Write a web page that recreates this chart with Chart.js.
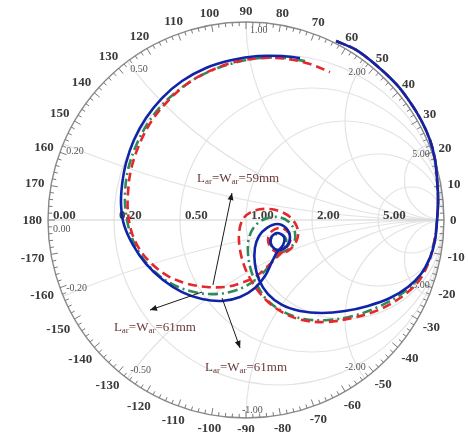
<!DOCTYPE html>
<html>
<head>
<meta charset="utf-8">
<script src="https://cdn.jsdelivr.net/npm/chart.js@4/dist/chart.umd.min.js"></script>
<style>
  html, body { margin: 0; padding: 0; background: #ffffff; overflow: hidden; }
  #wrap { position: relative; width: 469px; height: 432px; }
</style>
</head>
<body>
<div id="wrap"><canvas id="smith" width="469" height="432"></canvas></div>
<script>
// Smith chart grid values (normalised resistance / reactance)
const resistanceTicks = [0, 0.2, 0.5, 1, 2, 5];
const reactanceTicks = [0.2, 0.5, 1, 2, 5];
// Reflection-coefficient angle labels (degrees)
const angleTicks = [180, 170, 160, 150, 140, 130, 120, 110, 100, 90, 80, 70, 60, 50, 40, 30, 20, 10, 0,
  -10, -20, -30, -40, -50, -60, -70, -80, -90, -100, -110, -120, -130, -140, -150, -160, -170];

// S11 (real / imaginary) for the three antenna sizes
const redRe = [0.455, 0.556, 0.662, 0.758, 0.828, 0.884, 0.929, 0.955, 0.965, 0.970, 0.965, 0.949, 0.919, 0.869, 0.778, 0.667,
  0.535, 0.409, 0.283, 0.182, 0.101, 0.040, -0.005, -0.030, -0.035, -0.015, 0.035, 0.106, 0.182, 0.237, 0.263, 0.253, 0.217,
  0.172, 0.131, 0.111, 0.131, 0.177, 0.217, 0.222, 0.192, 0.152, 0.101, 0.045, -0.025, -0.101, -0.197, -0.293, -0.394, -0.475,
  -0.535, -0.576, -0.596, -0.596, -0.581, -0.540, -0.480, -0.399, -0.298, -0.182, -0.056, 0.081, 0.212, 0.323, 0.424];
const redIm = [0.904, 0.859, 0.778, 0.687, 0.596, 0.505, 0.404, 0.303, 0.202, 0.101, 0.000, -0.121, -0.222, -0.313, -0.394, -0.455,
  -0.495, -0.515, -0.505, -0.465, -0.404, -0.328, -0.242, -0.152, -0.066, 0.005, 0.045, 0.056, 0.040, 0.000, -0.056, -0.111, -0.152,
  -0.167, -0.146, -0.101, -0.056, -0.040, -0.066, -0.111, -0.152, -0.192, -0.242, -0.288, -0.318, -0.338, -0.338, -0.323, -0.283, -0.222,
  -0.152, -0.066, 0.035, 0.136, 0.253, 0.379, 0.495, 0.596, 0.687, 0.753, 0.798, 0.818, 0.813, 0.788, 0.747];

const greenRe = [0.455, 0.556, 0.662, 0.758, 0.828, 0.884, 0.929, 0.955, 0.965, 0.970, 0.965, 0.949, 0.919, 0.864, 0.778, 0.667,
  0.540, 0.414, 0.293, 0.192, 0.111, 0.061, 0.025, 0.010, 0.015, 0.045, 0.096, 0.162, 0.217, 0.247, 0.242, 0.207, 0.162,
  0.131, 0.126, 0.157, 0.197, 0.202, 0.172, 0.131, 0.081, 0.010, -0.081, -0.182, -0.283, -0.384, -0.470, -0.535, -0.581,
  -0.606, -0.611, -0.596, -0.556, -0.495, -0.414, -0.313, -0.192, -0.061, 0.071, 0.197, 0.298];
const greenIm = [0.904, 0.859, 0.778, 0.687, 0.596, 0.505, 0.404, 0.303, 0.202, 0.101, 0.000, -0.116, -0.212, -0.303, -0.379, -0.439,
  -0.485, -0.505, -0.500, -0.465, -0.409, -0.338, -0.253, -0.167, -0.091, -0.030, 0.005, 0.015, -0.010, -0.061, -0.116, -0.152, -0.162,
  -0.136, -0.096, -0.071, -0.086, -0.126, -0.162, -0.212, -0.273, -0.328, -0.364, -0.374, -0.359, -0.318, -0.253, -0.172, -0.076,
  0.030, 0.136, 0.253, 0.374, 0.490, 0.591, 0.677, 0.747, 0.793, 0.818, 0.818, 0.803];

const blueRe = [0.455, 0.556, 0.662, 0.758, 0.828, 0.884, 0.929, 0.955, 0.965, 0.970, 0.965, 0.955, 0.929, 0.884, 0.818, 0.727,
  0.616, 0.500, 0.384, 0.273, 0.182, 0.111, 0.066, 0.045, 0.045, 0.066, 0.106, 0.157, 0.202, 0.222, 0.207, 0.167, 0.131,
  0.126, 0.157, 0.192, 0.187, 0.157, 0.131, 0.096, 0.045, -0.030, -0.121, -0.222, -0.323, -0.419, -0.505, -0.571, -0.616,
  -0.631, -0.626, -0.606, -0.566, -0.505, -0.424, -0.323, -0.202, -0.071, 0.061, 0.182, 0.273];
const blueIm = [0.904, 0.859, 0.778, 0.687, 0.596, 0.505, 0.404, 0.303, 0.202, 0.101, 0.000, -0.101, -0.192, -0.273, -0.338, -0.394,
  -0.434, -0.460, -0.470, -0.460, -0.429, -0.374, -0.303, -0.222, -0.141, -0.081, -0.040, -0.020, -0.040, -0.086, -0.131, -0.152, -0.131,
  -0.091, -0.066, -0.086, -0.126, -0.162, -0.212, -0.283, -0.343, -0.389, -0.409, -0.399, -0.364, -0.303, -0.222, -0.126, -0.025,
  0.076, 0.177, 0.288, 0.404, 0.515, 0.616, 0.702, 0.768, 0.808, 0.828, 0.828, 0.818];

const seriesNames = ['59mm', '61mm', '61mm'];

function toPoints(re, im) {
  return re.map((v, i) => ({ x: v, y: im[i] }));
}

// Labelled arrows (positions in reflection-coefficient coordinates)
const callouts = [
  { size: seriesNames[0], text: { x: -0.040, y: 0.212 }, from: { x: -0.167, y: -0.328 }, to: { x: -0.071, y: 0.136 } },
  { size: seriesNames[1], text: { x: -0.460, y: -0.540 }, from: { x: -0.222, y: -0.364 }, to: { x: -0.485, y: -0.455 } },
  { size: seriesNames[2], text: { x: 0.000, y: -0.742 }, from: { x: -0.121, y: -0.394 }, to: { x: -0.030, y: -0.646 } }
];

const serif = "'Liberation Serif', 'DejaVu Serif', serif";

function fmt(v) { return v.toFixed(2); }

// Grid, rim ticks and scale labels of the Smith chart
const smithGrid = {
  id: 'smithGrid',
  beforeDatasetsDraw(chart) {
    const { ctx } = chart;
    const sx = chart.scales.x, sy = chart.scales.y;
    const px = v => sx.getPixelForValue(v);
    const py = v => sy.getPixelForValue(v);
    const cx = px(0), cy = py(0), R = px(1) - px(0);

    ctx.save();
    ctx.beginPath();
    ctx.arc(cx, cy, R, 0, Math.PI * 2);
    ctx.clip();
    ctx.strokeStyle = '#e3e3e3';
    ctx.lineWidth = 1.2;
    resistanceTicks.forEach(r => {
      if (r === 0) return;
      ctx.beginPath();
      ctx.arc(px(r / (1 + r)), cy, R / (1 + r), 0, Math.PI * 2);
      ctx.stroke();
    });
    reactanceTicks.forEach(xv => {
      [xv, -xv].forEach(s => {
        ctx.beginPath();
        ctx.arc(px(1), py(1 / s), R / Math.abs(s), 0, Math.PI * 2);
        ctx.stroke();
      });
    });
    ctx.strokeStyle = '#d4d4d4';
    ctx.beginPath();
    ctx.moveTo(px(-1), cy);
    ctx.lineTo(px(1), cy);
    ctx.stroke();
    ctx.restore();

    // rim
    ctx.save();
    ctx.strokeStyle = '#8a8a8a';
    ctx.lineWidth = 1.4;
    ctx.beginPath();
    ctx.arc(cx, cy, R, 0, Math.PI * 2);
    ctx.stroke();
    ctx.strokeStyle = '#7a7a7a';
    ctx.lineWidth = 1;
    ctx.beginPath();
    for (let a = 0; a < 360; a += 2) {
      const t = a * Math.PI / 180;
      const len = a % 10 === 0 ? 7 : 4;
      ctx.moveTo(cx + R * Math.cos(t), cy - R * Math.sin(t));
      ctx.lineTo(cx + (R - len) * Math.cos(t), cy - (R - len) * Math.sin(t));
    }
    ctx.stroke();

    // angle labels
    ctx.fillStyle = '#3a3a3a';
    ctx.font = 'bold 13px ' + serif;
    ctx.textAlign = 'center';
    ctx.textBaseline = 'middle';
    angleTicks.forEach(a => {
      const t = a * Math.PI / 180;
      const s = String(a);
      const w = ctx.measureText(s).width;
      const rt = R + 6 + (w / 2) * Math.abs(Math.cos(t)) + 5 * Math.abs(Math.sin(t));
      ctx.fillText(s, cx + rt * Math.cos(t), cy - rt * Math.sin(t) + 1);
    });

    // resistance labels on the real axis
    ctx.font = 'bold 13px ' + serif;
    ctx.textAlign = 'left';
    ctx.textBaseline = 'middle';
    ctx.fillStyle = '#3c3c3c';
    resistanceTicks.forEach(r => {
      const g = (r - 1) / (r + 1);
      ctx.fillText(fmt(r), px(g) + 5, cy - 4);
    });

    // reactance labels just inside the rim
    ctx.font = '10px ' + serif;
    ctx.fillStyle = '#555555';
    ctx.textAlign = 'left';
    ctx.textBaseline = 'top';
    ctx.fillText(fmt(0), px(-1) + 5, cy + 4);
    reactanceTicks.forEach(xv => {
      const t = Math.PI - 2 * Math.atan(xv);
      const gx = Math.cos(t), gy = Math.sin(t);
      [1, -1].forEach(sign => {
        const x0 = px(gx), y0 = py(sign * gy);
        const s = (sign < 0 ? '-' : '') + fmt(xv);
        ctx.textBaseline = sign > 0 ? 'top' : 'bottom';
        const dy = sign > 0 ? 3 : -3;
        if (xv < 1) {
          ctx.textAlign = 'left';
          ctx.fillText(s, x0 + 3, y0 + dy);
        } else if (xv === 1) {
          ctx.textAlign = 'left';
          ctx.fillText(s, x0 + (sign > 0 ? 4 : -4), y0 + dy);
        } else {
          ctx.textAlign = 'right';
          ctx.fillText(s, x0 + 1, y0 + dy + (sign > 0 ? 3 : -3));
        }
      });
    });
    ctx.restore();
  }
};

// Arrowed size labels
const calloutPlugin = {
  id: 'callouts',
  afterDatasetsDraw(chart) {
    const { ctx } = chart;
    const sx = chart.scales.x, sy = chart.scales.y;
    ctx.save();
    callouts.forEach(c => {
      const x1 = sx.getPixelForValue(c.from.x), y1 = sy.getPixelForValue(c.from.y);
      const x2 = sx.getPixelForValue(c.to.x), y2 = sy.getPixelForValue(c.to.y);
      ctx.strokeStyle = '#1a1a1a';
      ctx.fillStyle = '#1a1a1a';
      ctx.lineWidth = 1;
      ctx.beginPath();
      ctx.moveTo(x1, y1);
      ctx.lineTo(x2, y2);
      ctx.stroke();
      const ang = Math.atan2(y2 - y1, x2 - x1);
      const L = 7, W = 3;
      ctx.beginPath();
      ctx.moveTo(x2, y2);
      ctx.lineTo(x2 - L * Math.cos(ang) + W * Math.sin(ang), y2 - L * Math.sin(ang) - W * Math.cos(ang));
      ctx.lineTo(x2 - L * Math.cos(ang) - W * Math.sin(ang), y2 - L * Math.sin(ang) + W * Math.cos(ang));
      ctx.closePath();
      ctx.fill();

      // L_ar = W_ar = size
      const parts = [
        { t: 'L', sub: false }, { t: 'ar', sub: true }, { t: '=W', sub: false }, { t: 'ar', sub: true }, { t: '=' + c.size, sub: false }
      ];
      const big = '13px ' + serif, small = '9px ' + serif;
      let total = 0;
      parts.forEach(p => { ctx.font = p.sub ? small : big; p.w = ctx.measureText(p.t).width; total += p.w; });
      let tx = sx.getPixelForValue(c.text.x) - total / 2;
      const ty = sy.getPixelForValue(c.text.y);
      ctx.fillStyle = '#6a3a3a';
      ctx.textAlign = 'left';
      ctx.textBaseline = 'alphabetic';
      parts.forEach(p => {
        ctx.font = p.sub ? small : big;
        ctx.fillText(p.t, tx, ty + (p.sub ? 6 : 4));
        tx += p.w;
      });
    });
    ctx.restore();
  }
};

const lineBase = { showLine: true, pointRadius: 0, pointHoverRadius: 0, fill: false, tension: 0.35, borderCapStyle: 'butt', borderJoinStyle: 'round' };

new Chart(document.getElementById('smith').getContext('2d'), {
  type: 'scatter',
  data: {
    datasets: [
      Object.assign({}, lineBase, { label: 'Lar=War=' + seriesNames[2], data: toPoints(blueRe, blueIm), borderColor: '#1024a8', borderWidth: 2.6, order: 0 }),
      Object.assign({}, lineBase, { label: 'Lar=War=' + seriesNames[0], data: toPoints(redRe, redIm), borderColor: '#e4282c', borderWidth: 2.6, borderDash: [9, 5], order: 1 }),
      Object.assign({}, lineBase, { label: 'Lar=War=' + seriesNames[1], data: toPoints(greenRe, greenIm), borderColor: '#2f8a5c', borderWidth: 2.6, borderDash: [10, 4, 2, 4], order: 2 })
    ]
  },
  options: {
    responsive: false,
    animation: false,
    devicePixelRatio: 1,
    layout: { padding: { left: 48, right: 25, top: 22, bottom: 14 } },
    scales: {
      x: { type: 'linear', min: -1, max: 1, display: false },
      y: { type: 'linear', min: -1, max: 1, display: false }
    },
    plugins: { legend: { display: false }, tooltip: { enabled: false } }
  },
  plugins: [smithGrid, calloutPlugin]
});
</script>
</body>
</html>
